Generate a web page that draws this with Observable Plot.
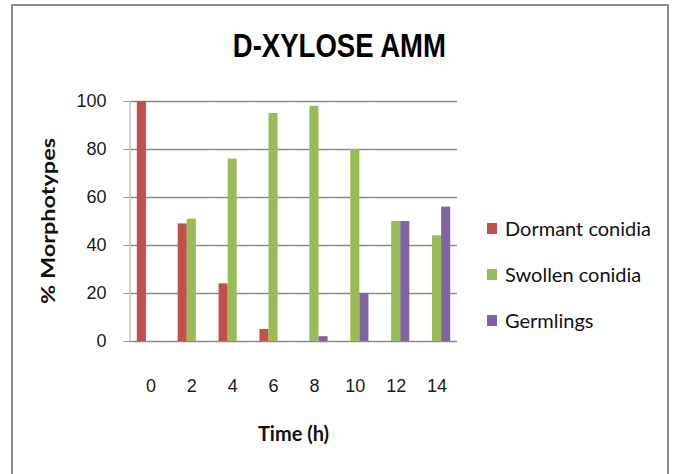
<!DOCTYPE html>
<html>
<head>
<meta charset="utf-8">
<script src="https://cdn.jsdelivr.net/npm/d3@7"></script>
<script src="https://cdn.jsdelivr.net/npm/@observablehq/plot@0.6"></script>
<style>
  html, body { margin: 0; padding: 0; background: #fff; }
  #wrap { position: relative; width: 678px; height: 474px; overflow: hidden; font-family: "Lato", "Open Sans", sans-serif; }
  #border { position: absolute; left: 11px; top: 4px; width: 658px; height: 490px; border: 2px solid #8c8c8c; box-sizing: border-box; pointer-events: none; }
  #title { position: absolute; left: 0; width: 678px; top: 28px; text-align: center; font-family: "Liberation Sans", sans-serif; font-weight: bold; font-size: 34px; color: #000; transform: scaleX(0.81); transform-origin: 341px 0; line-height: 1; }
  #legend { position: absolute; left: 487px; top: 214px; font-size: 20px; color: #111; }
  #legend .item { display: flex; align-items: center; height: 28px; margin-bottom: 18px; }
  #legend .sw { width: 10px; height: 11px; margin-right: 8px; }
  svg { position: absolute; left: 0; top: 0; }
</style>
</head>
<body>
<div id="wrap">
  <div id="title">D-XYLOSE AMM</div>
  <div id="legend"></div>
  <div id="border"></div>
</div>
<script>
// Time points (hours) and percentage of each morphotype
const times = [0, 2, 4, 6, 8, 10, 12, 14];
const dormant = [100, 49, 24, 5, 0, 0, 0, 0];
const swollen = [0, 51, 76, 95, 98, 80, 50, 44];
const germlings = [0, 0, 0, 0, 2, 20, 50, 56];
const seriesNames = ["Dormant conidia", "Swollen conidia", "Germlings"];
const seriesColors = ["#C0504D", "#9BBB59", "#8064A2"];
const yTicks = [0, 20, 40, 60, 80, 100];

const seriesValues = [dormant, swollen, germlings];
const rows = times.flatMap((t, i) =>
  seriesNames.map((s, j) => ({time: t, series: s, value: seriesValues[j][i]}))
);

const tickFont = "'Liberation Sans', 'Lato', sans-serif";
const marginLeft = 130, marginRight = 221;

const chart = Plot.plot({
  width: 678,
  height: 474,
  marginLeft,
  marginRight,
  marginTop: 101,
  marginBottom: 133,
  style: {background: "transparent", fontFamily: tickFont, fontSize: "18px", color: "#1a1a1a"},
  fx: {domain: times, paddingInner: 0, paddingOuter: 0, round: false, label: null, axis: "bottom", tickSize: 0, tickPadding: 38},
  x: {domain: seriesNames, paddingInner: 0, paddingOuter: 0.75, round: false, axis: null},
  y: {domain: [0, 100], axis: null},
  color: {domain: seriesNames, range: seriesColors},
  marks: [
    Plot.gridY(yTicks, {stroke: "#8a8a8a", strokeOpacity: 1, strokeWidth: 1.3}),
    Plot.barY(rows, {fx: "time", x: "series", y: "value", fill: "series"}),
    Plot.axisY(yTicks, {
      tickSize: 7, stroke: "#9a9a9a", tickPadding: 17, fontSize: 18,
      fill: "#1a1a1a", label: null
    })
  ]
});

// value axis line and axis titles, placed with the chart's own y scale
const y = chart.scale("y");
const svg = d3.select(chart);
svg.append("line")
  .attr("x1", marginLeft).attr("x2", marginLeft)
  .attr("y1", y.apply(100)).attr("y2", y.apply(0))
  .attr("stroke", "#c4c4c4").attr("stroke-width", 1.5);
svg.append("text")
  .attr("transform", `translate(50,${(y.apply(0) + y.apply(100)) / 2}) rotate(-90)`)
  .attr("text-anchor", "middle").attr("dominant-baseline", "middle")
  .attr("font-weight", "bold").attr("font-size", 19)
  .attr("font-family", "'Lato', sans-serif")
  .attr("textLength", 166).attr("lengthAdjust", "spacingAndGlyphs")
  .attr("fill", "#111")
  .text("% Morphotypes");
svg.append("text")
  .attr("x", (marginLeft + 678 - marginRight) / 2)
  .attr("y", 436)
  .attr("text-anchor", "middle").attr("dominant-baseline", "middle")
  .attr("font-weight", "bold").attr("font-size", 20)
  .attr("font-family", "'Lato', sans-serif")
  .attr("fill", "#111")
  .text("Time (h)");

const wrap = document.getElementById("wrap");
wrap.insertBefore(chart, wrap.firstChild);

const legend = document.getElementById("legend");
seriesNames.forEach((name, i) => {
  const item = document.createElement("div");
  item.className = "item";
  const sw = document.createElement("span");
  sw.className = "sw";
  sw.style.background = seriesColors[i];
  const label = document.createElement("span");
  label.textContent = name;
  item.appendChild(sw);
  item.appendChild(label);
  legend.appendChild(item);
});
</script>
</body>
</html>
